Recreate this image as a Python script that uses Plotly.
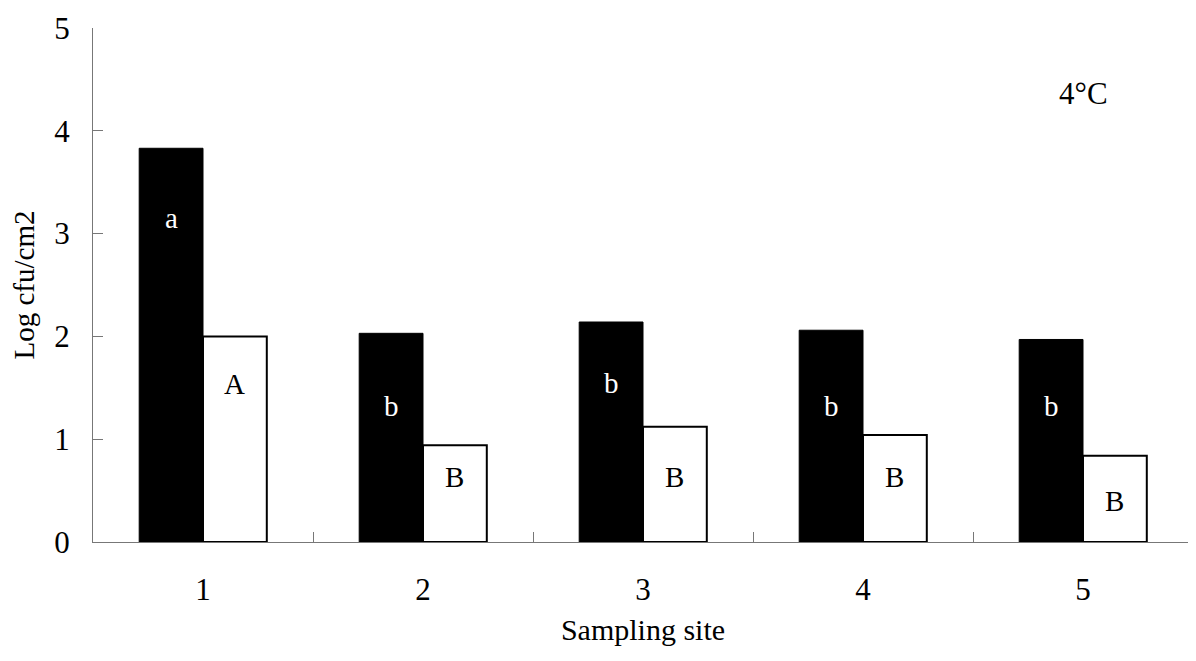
import plotly.graph_objects as go

sites = ["1", "2", "3", "4", "5"]
dark_values = [3.83, 2.03, 2.14, 2.06, 1.97]
light_values = [2.00, 0.94, 1.12, 1.04, 0.84]
dark_labels = ["a", "b", "b", "b", "b"]
light_labels = ["A", "B", "B", "B", "B"]
dark_label_y = [3.15, 1.32, 1.55, 1.32, 1.32]
light_label_y = [1.54, 0.63, 0.63, 0.63, 0.40]
y_ticks = [0, 1, 2, 3, 4, 5]
temp_label = "4°C"

FONT = "Liberation Serif, Times New Roman, serif"

fig = go.Figure()
fig.add_trace(go.Bar(x=sites, y=dark_values, marker=dict(color="black", line=dict(color="black", width=1)),
                     showlegend=False))
fig.add_trace(go.Bar(x=sites, y=light_values, marker=dict(color="white", line=dict(color="black", width=2)),
                     showlegend=False))

off = 0.145
for i in range(len(sites)):
    fig.add_annotation(x=i - off, y=dark_label_y[i], text=dark_labels[i], showarrow=False,
                       font=dict(family=FONT, size=29, color="white"))
    fig.add_annotation(x=i + off, y=light_label_y[i], text=light_labels[i], showarrow=False,
                       font=dict(family=FONT, size=29, color="black"))

fig.add_annotation(x=4, y=4.36, text=temp_label, showarrow=False,
                   font=dict(family=FONT, size=31, color="black"))

fig.update_layout(
    width=1188, height=653,
    margin=dict(l=85, r=3, t=16, b=119),
    plot_bgcolor="white", paper_bgcolor="white",
    barmode="group", bargap=0.42, bargroupgap=0,
    font=dict(family=FONT, size=31, color="black"),
    xaxis=dict(type="category", range=[-0.5, 4.5], showline=True, linecolor="#777777", linewidth=1,
               ticks="inside", tickson="boundaries", ticklen=10, tickcolor="#777777", tickwidth=1,
               ticklabelstandoff=20, showgrid=False, zeroline=False,
               title=dict(text="Sampling site", standoff=12, font=dict(family=FONT, size=30))),
    yaxis=dict(range=[0, 5], tickvals=y_ticks, showline=True, linecolor="#777777", linewidth=1,
               ticks="inside", ticklen=10, tickcolor="#777777", tickwidth=1,
               ticklabelstandoff=16, ticklabeloverflow="allow", showgrid=False, zeroline=False,
               title=dict(text="Log cfu/cm2", standoff=13, font=dict(family=FONT, size=29))),
)

fig.write_html("out.html")
